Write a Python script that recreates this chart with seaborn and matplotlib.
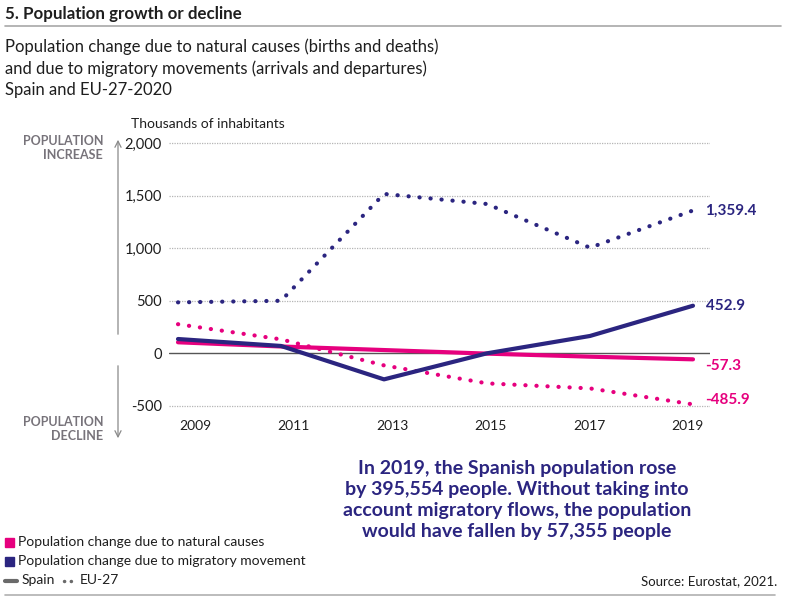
#!/usr/bin/env python3
import matplotlib
matplotlib.use("Agg")
import matplotlib.pyplot as plt
import seaborn as sns
import numpy as np
import pandas as pd
from matplotlib.patches import Rectangle, FancyArrowPatch
from matplotlib.lines import Line2D

# Data (thousands of inhabitants)
years = [2009, 2011, 2013, 2015, 2017, 2019]
spain_natural = [105, 65, 31, -3, -32, -57.3]
spain_migration = [136, 70, -248, 0, 165, 452.9]
eu_natural = [277, 133, -115, -286, -334, -485.9]
eu_migration = [485, 500, 1517, 1421, 1005, 1359.4]
y_ticks = [-500, 0, 500, 1000, 1500, 2000]

PINK = "#e6007e"
NAVY = "#2b2580"
GREY = "#77737a"
DARK = "#1e1e1e"

sns.set_theme(style="white")
plt.rcParams["font.family"] = ["Lato", "DejaVu Sans"]

W, H = 795, 600
fig = plt.figure(figsize=(W / 100, H / 100), dpi=100)


def fx(px):
    return px / W


def fy(py):
    return 1 - py / H


# plot area: x 169..710 px, y-range (-530..2030) -> 409..140 px
ax = fig.add_axes([fx(169), fy(409), fx(710) - fx(169), fy(140) - fy(409)])

series = [
    (eu_migration, NAVY, "dot"),
    (eu_natural, PINK, "dot"),
    (spain_natural, PINK, "solid"),
    (spain_migration, NAVY, "solid"),
]

# grid + zero line
for t in y_ticks:
    if t == 0:
        ax.axhline(0, color="#555555", lw=1.0, zorder=1)
    else:
        ax.axhline(t, color="#b5b5b5", lw=0.9, ls=(0, (1, 1)), zorder=0)

for vals, col, kind in series:
    df = pd.DataFrame({"year": years, "value": vals})
    if kind == "solid":
        sns.lineplot(data=df, x="year", y="value", color=col, lw=3.0, ax=ax,
                     solid_capstyle="round", zorder=3)
    else:
        sns.lineplot(data=df, x="year", y="value", color=col, lw=3.0, ax=ax,
                     linestyle=(0, (0.05, 2.6)), dash_capstyle="round", zorder=3)

ax.set_xlim(2009 - 9 / 51.5, 2019 + 17 / 51.5)
ax.set_ylim(-530, 2030)
# year labels sit on their own even spacing, a bit right of the data points
ax.set_xticks(np.linspace(2009.33, 2018.9, len(years)))
ax.set_xticklabels([str(y) for y in years])
ax.set_yticks(y_ticks)
ax.set_yticklabels([f"{t:,}" for t in y_ticks])
ax.tick_params(axis="both", length=0, colors=DARK)
ax.tick_params(axis="y", pad=5, labelsize=10.5)
ax.tick_params(axis="x", pad=8, labelsize=10)
ax.set_xlabel("")
ax.set_ylabel("")
for s in ax.spines.values():
    s.set_visible(False)
ax.patch.set_alpha(0)

# end labels
end_labels = [
    (eu_migration[-1], NAVY, "1,359.4", 0),
    (spain_migration[-1], NAVY, "452.9", 0),
    (spain_natural[-1], PINK, "-57.3", -5),
    (eu_natural[-1], PINK, "-485.9", 3),
]
for v, col, txt, dy in end_labels:
    ax.annotate(txt, xy=(2019, v), xytext=(9, dy), textcoords="offset points",
                ha="left", va="center", color=col, fontsize=11, fontweight="bold")

# title block
fig.text(fx(5), fy(14), "5. Population growth or decline", fontsize=12.2,
         fontweight="bold", color=DARK, ha="left", va="center")
fig.add_artist(Line2D([fx(5), fx(781)], [fy(26), fy(26)], color="#a8a8a8", lw=1.2))
fig.text(fx(5), fy(68),
         "Population change due to natural causes (births and deaths)\n"
         "and due to migratory movements (arrivals and departures)\n"
         "Spain and EU-27-2020",
         fontsize=12, color=DARK, ha="left", va="center", linespacing=1.4)
fig.text(fx(131), fy(124), "Thousands of inhabitants", fontsize=10,
         color=DARK, ha="left", va="center")

# increase / decline arrows
arrow_kw = dict(arrowstyle="->", color="#8a8a8a", lw=0.9, mutation_scale=11)
fig.add_artist(FancyArrowPatch((fx(118), fy(337)), (fx(118), fy(137)),
                               transform=fig.transFigure, **arrow_kw))
fig.add_artist(FancyArrowPatch((fx(118), fy(363)), (fx(118), fy(441)),
                               transform=fig.transFigure, **arrow_kw))
fig.text(fx(103), fy(148), "POPULATION\nINCREASE", fontsize=9, fontweight="bold",
         color=GREY, ha="right", va="center", multialignment="right", linespacing=1.25)
fig.text(fx(103), fy(429), "POPULATION\nDECLINE", fontsize=9, fontweight="bold",
         color=GREY, ha="right", va="center", multialignment="right", linespacing=1.25)

# highlight text
fig.text(fx(517), fy(500),
         "In 2019, the Spanish population rose\n"
         "by 395,554 people. Without taking into\n"
         "account migratory flows, the population\n"
         "would have fallen by 57,355 people",
         fontsize=14, fontweight="bold", color=NAVY, ha="center", va="center",
         multialignment="center", linespacing=1.3)

# legend
fig.add_artist(Rectangle((fx(5), fy(547)), fx(9), 9 / H, color=PINK,
                         transform=fig.transFigure))
fig.text(fx(18), fy(542), "Population change due to natural causes", fontsize=10,
         color=DARK, ha="left", va="center")
fig.add_artist(Rectangle((fx(5), fy(566)), fx(9), 9 / H, color=NAVY,
                         transform=fig.transFigure))
fig.text(fx(18), fy(561), "Population change due to migratory movement", fontsize=10,
         color=DARK, ha="left", va="center")
fig.add_artist(Line2D([fx(5), fx(17)], [fy(581), fy(581)], color="#6a6a6a", lw=3))
fig.text(fx(22), fy(580), "Spain", fontsize=10, color=DARK, ha="left", va="center")
fig.add_artist(Line2D([fx(64), fx(76)], [fy(581), fy(581)], color="#6a6a6a", lw=2.5,
                      ls=(0, (0.05, 1.9)), dash_capstyle="round"))
fig.text(fx(80), fy(580), "EU-27", fontsize=10, color=DARK, ha="left", va="center")

fig.text(fx(777), fy(581), "Source: Eurostat, 2021.", fontsize=9.5, color=DARK,
         ha="right", va="center")
fig.add_artist(Line2D([fx(5), fx(775)], [fy(595), fy(595)], color="#b0b0b0", lw=1.2))

fig.savefig("out.png", dpi=100, facecolor="white")
